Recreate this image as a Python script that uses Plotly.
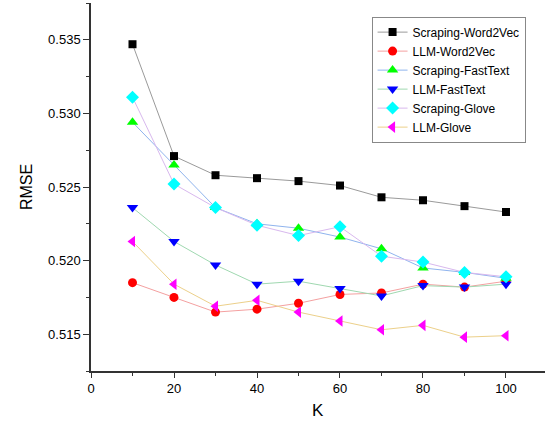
import plotly.graph_objects as go

K = [10, 20, 30, 40, 50, 60, 70, 80, 90, 100]

scraping_word2vec = [0.5347, 0.5271, 0.5258, 0.5256, 0.5254, 0.5251, 0.5243, 0.5241, 0.5237, 0.5233]
llm_word2vec      = [0.5185, 0.5175, 0.5165, 0.5167, 0.5171, 0.5177, 0.5178, 0.5184, 0.5182, 0.5186]
scraping_fasttext = [0.5294, 0.5265, 0.5236, 0.5225, 0.5222, 0.5216, 0.5208, 0.5195, 0.5192, 0.5188]
llm_fasttext      = [0.5236, 0.5213, 0.5197, 0.5184, 0.5186, 0.5181, 0.5176, 0.5183, 0.5182, 0.5184]
scraping_glove    = [0.5311, 0.5252, 0.5236, 0.5224, 0.5217, 0.5223, 0.5203, 0.5199, 0.5192, 0.5189]
llm_glove         = [0.5213, 0.5184, 0.5169, 0.5173, 0.5165, 0.5159, 0.5153, 0.5156, 0.5148, 0.5149]

series = [
    ("Scraping-Word2Vec", scraping_word2vec, "#9a9a9a", "#000000", "square", 8),
    ("LLM-Word2Vec", llm_word2vec, "#f4a0a0", "#ff0000", "circle", 9),
    ("Scraping-FastText", scraping_fasttext, "#8fb4ee", "#00ff00", "triangle-up", 10),
    ("LLM-FastText", llm_fasttext, "#9fd8b0", "#0000ff", "triangle-down", 10),
    ("Scraping-Glove", scraping_glove, "#d8b8ee", "#00ffff", "diamond", 10),
    ("LLM-Glove", llm_glove, "#ecd08a", "#ff00ff", "triangle-left", 10),
]

fig = go.Figure()
for name, vals, lc, mc, sym, sz in series:
    fig.add_trace(go.Scatter(
        x=K, y=vals, name=name, mode="lines+markers",
        line=dict(color=lc, width=1),
        marker=dict(color=mc, symbol=sym, size=sz, line=dict(width=0)),
    ))

font_family = "Arial, 'Liberation Sans', sans-serif"
fig.update_layout(
    width=545, height=430,
    margin=dict(l=91, r=0, t=3, b=59),
    plot_bgcolor="white", paper_bgcolor="white",
    font=dict(family=font_family, size=13, color="#000000"),
    showlegend=True,
    legend=dict(
        x=0.618, y=0.963, xanchor="left", yanchor="top",
        bordercolor="#888888", borderwidth=1, bgcolor="white",
        font=dict(size=12, family=font_family), tracegroupgap=0,
        itemwidth=30,
    ),
    xaxis=dict(
        range=[0, 109.4], dtick=20, tick0=0,
        showline=True, linecolor="#333333", linewidth=1.5,
        ticks="outside", ticklen=5, tickwidth=1.2, tickcolor="#333333",
        minor=dict(dtick=10, ticks="outside", ticklen=3, tickcolor="#333333", showgrid=False),
        showgrid=False, zeroline=False,
        tickfont=dict(size=13),
    ),
    yaxis=dict(
        range=[0.5125, 0.5375], dtick=0.005, tick0=0.515,
        tickformat=".3f",
        showline=True, linecolor="#333333", linewidth=1.5,
        ticks="outside", ticklen=6, tickwidth=1.2, tickcolor="#333333",
        minor=dict(dtick=0.0025, ticks="outside", ticklen=3, tickcolor="#333333", showgrid=False),
        showgrid=False, zeroline=False,
        tickfont=dict(size=13),
    ),
    annotations=[
        dict(text="RMSE", x=-0.143, y=0.50, xref="paper", yref="paper",
             xanchor="center", yanchor="middle",
             showarrow=False, textangle=-90, font=dict(size=16)),
        dict(text="K", x=0.5, y=-0.107, xref="paper", yref="paper",
             xanchor="center", yanchor="middle",
             showarrow=False, font=dict(size=17)),
    ],
)

fig.write_html(
    "out.html",
    config={"displayModeBar": False},
    post_script="document.body.style.margin='0';document.body.style.overflow='hidden';",
)
